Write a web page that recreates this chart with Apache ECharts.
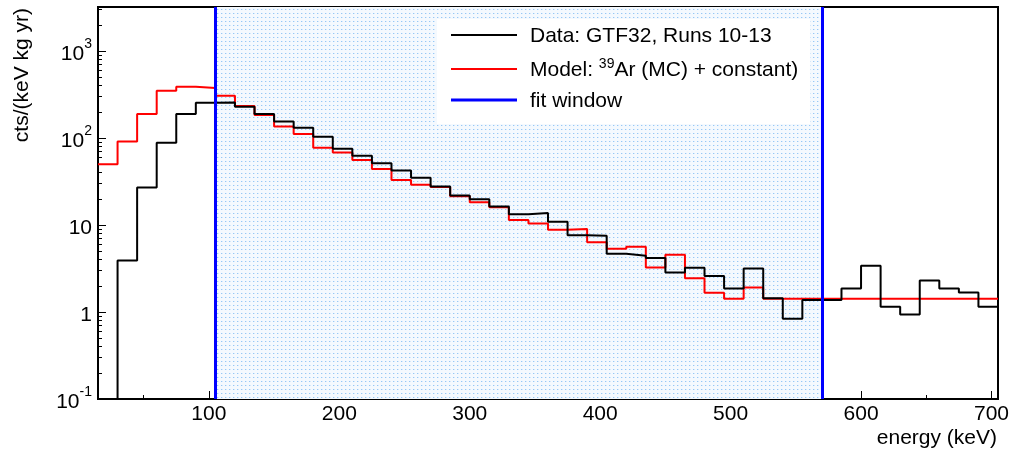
<!DOCTYPE html>
<html>
<head>
<meta charset="utf-8">
<script src="https://cdn.jsdelivr.net/npm/echarts@6.0.0/dist/echarts.min.js"></script>
<style>
  html, body { margin: 0; padding: 0; background: #fff; }
  #chart { width: 1014px; height: 455px; }
</style>
</head>
<body>
<div id="chart"></div>
<script>
// ---- data ----
const binLow = [15, 30, 45, 60, 75, 90, 105, 120, 135, 150, 165, 180, 195, 210, 225, 240,
  255, 270, 285, 300, 315, 330, 345, 360, 375, 390, 405, 420, 435, 450, 465, 480, 495,
  510, 525, 540, 555, 570, 585, 600, 615, 630, 645, 660, 675, 690];
const binHighEdge = 705;
const dataCounts = [0, 3.9, 27, 88, 189, 254, 256, 229, 189, 155, 131, 103, 75, 62.6, 51.2,
  42.2, 35.0, 27.6, 21.8, 19.8, 16.3, 13.3, 13.7, 10.9, 7.6, 7.5, 4.66, 4.42, 4.16, 2.84,
  3.22, 2.60, 1.86, 3.16, 1.44, 0.836, 1.37, 1.37, 1.86, 3.39, 1.15, 0.936, 2.30, 1.86,
  1.67, 1.15];
const modelCounts = [50, 91, 189, 349, 388, 375, 306, 233, 184, 135, 111, 77, 68, 55.9, 44.1,
  32.9, 28.9, 27.3, 21.4, 18.3, 16.0, 11.4, 10.4, 8.8, 9.0, 6.35, 5.32, 5.61, 3.24, 4.54,
  2.45, 1.66, 1.42, 1.91, 1.42, 1.42, 1.42, 1.42, 1.42, 1.42, 1.42, 1.42, 1.42, 1.42,
  1.42, 1.42];
const fitWindow = [105, 570];
const xRange = [15, 705];
const yRange = [0.1, 3200];
const xLabelValues = [100, 200, 300, 400, 500, 600, 700];
const xMinorTickValues = [50, 150, 250, 350, 450, 550, 650];
const yLabelValues = [0.1, 1, 10, 100, 1000];
const yMinorTickValues = [0.2, 0.3, 0.4, 0.5, 0.6, 0.7, 0.8, 0.9,
  2, 3, 4, 5, 6, 7, 8, 9, 20, 30, 40, 50, 60, 70, 80, 90,
  200, 300, 400, 500, 600, 700, 800, 900, 2000, 3000];
const seriesNames = ['Data: GTF32, Runs 10-13', 'Model: 39Ar (MC) + constant)', 'fit window'];

const FONT = '"Liberation Sans", Arial, Helvetica, sans-serif';
const FLOOR = 1e-3; // empty bins drawn at the floor of the log axis

function toSteps(vals) {
  const pts = binLow.map((x, i) => [x, vals[i] > 0 ? vals[i] : FLOOR]);
  pts.push([binHighEdge, pts[pts.length - 1][1]]);
  return pts;
}

// dotted fill pattern for the fit window (light-blue tint + blue dots)
const pc = document.createElement('canvas');
pc.width = 4; pc.height = 4;
const pctx = pc.getContext('2d');
pctx.fillStyle = 'rgb(244,249,254)';
pctx.fillRect(0, 0, 4, 4);
pctx.fillStyle = 'rgb(150,200,246)';
pctx.fillRect(1, 1, 1, 1);
pctx.fillStyle = 'rgb(214,232,251)';
pctx.fillRect(2, 1, 1, 1);

const chart = echarts.init(document.getElementById('chart'), null, { renderer: 'canvas' });

const option = {
  animation: false,
  backgroundColor: '#fff',
  grid: {
    left: 98, right: 16, top: 7, bottom: 56,
    show: true, borderColor: '#000', borderWidth: 2, backgroundColor: 'transparent'
  },
  xAxis: [{
    type: 'value', min: xRange[0], max: xRange[1],
    axisLine: { show: true, lineStyle: { color: '#000', width: 2 } },
    axisTick: { show: true, inside: true, length: 8, customValues: xLabelValues,
      lineStyle: { color: '#000', width: 1 } },
    axisLabel: { show: true, customValues: xLabelValues, margin: 5, color: '#000',
      fontSize: 21, fontFamily: FONT },
    splitLine: { show: false }
  }, {
    type: 'value', min: xRange[0], max: xRange[1], position: 'bottom',
    axisLine: { show: false },
    axisTick: { show: true, inside: true, length: 4, customValues: xMinorTickValues,
      lineStyle: { color: '#000', width: 1 } },
    axisLabel: { show: false },
    splitLine: { show: false }
  }],
  yAxis: [{
    type: 'log', logBase: 10, min: yRange[0], max: yRange[1],
    axisLine: { show: true, lineStyle: { color: '#000', width: 2 } },
    axisTick: { show: true, inside: true, length: 8, customValues: yLabelValues,
      lineStyle: { color: '#000', width: 1 } },
    axisLabel: {
      show: true, customValues: yLabelValues, margin: 6,
      formatter: function (v) {
        const e = Math.round(Math.log10(v));
        if (e === 0) return '{b|1}';
        if (e === 1) return '{b|10}';
        return '{b|10}{s|' + e + '}';
      },
      rich: {
        b: { fontSize: 21, fontFamily: FONT, color: '#000', lineHeight: 27, verticalAlign: 'bottom' },
        s: { fontSize: 14, fontFamily: FONT, color: '#000', lineHeight: 27, verticalAlign: 'top' }
      }
    },
    splitLine: { show: false }
  }, {
    type: 'log', logBase: 10, min: yRange[0], max: yRange[1], position: 'left',
    axisLine: { show: false },
    axisTick: { show: true, inside: true, length: 4, customValues: yMinorTickValues,
      lineStyle: { color: '#000', width: 1 } },
    axisLabel: { show: false },
    splitLine: { show: false }
  }],
  legend: {
    data: [
      { name: seriesNames[0], icon: 'path://M0,0H66V2H0Z' },
      { name: seriesNames[1], icon: 'path://M0,0H66V2H0Z' },
      { name: seriesNames[2], icon: 'path://M0,0H66V3H0Z' }
    ],
    orient: 'vertical',
    left: 451, top: 26,
    padding: 0,
    itemWidth: 66, itemHeight: 14, itemGap: 10,
    symbolKeepAspect: true,
    z: 6,
    selectedMode: false,
    formatter: function (name) {
      if (name === seriesNames[1]) return '{n|Model: }{s|39}{n|Ar (MC) + constant)}';
      return '{n|' + name + '}';
    },
    textStyle: {
      padding: [0, 0, 0, 8],
      rich: {
        n: { fontSize: 21, fontFamily: FONT, color: '#000', lineHeight: 24, verticalAlign: 'bottom' },
        s: { fontSize: 14, fontFamily: FONT, color: '#000', lineHeight: 24, verticalAlign: 'top' }
      }
    }
  },
  graphic: [{
    type: 'rect', z: 5,
    shape: { x: 437, y: 19, width: 373, height: 105 },
    style: { fill: '#fff' }
  }, {
    type: 'text', z: 5,
    x: 22, y: 8, rotation: Math.PI / 2,
    style: { text: 'cts/(keV kg yr)', fill: '#000', font: '21px ' + FONT,
      textAlign: 'right', textVerticalAlign: 'middle' }
  }, {
    type: 'text', z: 5,
    x: 997, y: 438,
    style: { text: 'energy (keV)', fill: '#000', font: '21px ' + FONT,
      textAlign: 'right', textVerticalAlign: 'middle' }
  }],
  series: [{
    name: 'window-fill', type: 'line', data: [], z: 1, silent: true,
    markArea: {
      silent: true,
      itemStyle: { color: { image: pc, repeat: 'repeat' }, opacity: 1 },
      data: [[{ xAxis: fitWindow[0] }, { xAxis: fitWindow[1] }]]
    }
  }, {
    name: seriesNames[1], type: 'line', step: 'end', data: toSteps(modelCounts),
    symbol: 'none', clip: true, z: 3,
    color: '#ff0000', itemStyle: { color: '#ff0000' },
    lineStyle: { color: '#ff0000', width: 2 }
  }, {
    name: seriesNames[0], type: 'line', step: 'end', data: toSteps(dataCounts),
    symbol: 'none', clip: true, z: 3,
    color: '#000000', itemStyle: { color: '#000000' },
    lineStyle: { color: '#000000', width: 2 }
  }, {
    name: seriesNames[2], type: 'line', data: [], z: 4,
    symbol: 'none',
    color: '#0000ff', itemStyle: { color: '#0000ff' },
    lineStyle: { color: '#0000ff', width: 3 },
    markLine: {
      silent: true, symbol: ['none', 'none'],
      label: { show: false },
      lineStyle: { color: '#0000ff', width: 3, type: 'solid' },
      data: [{ xAxis: fitWindow[0] }, { xAxis: fitWindow[1] }]
    }
  }]
};
chart.setOption(option);
</script>
</body>
</html>
